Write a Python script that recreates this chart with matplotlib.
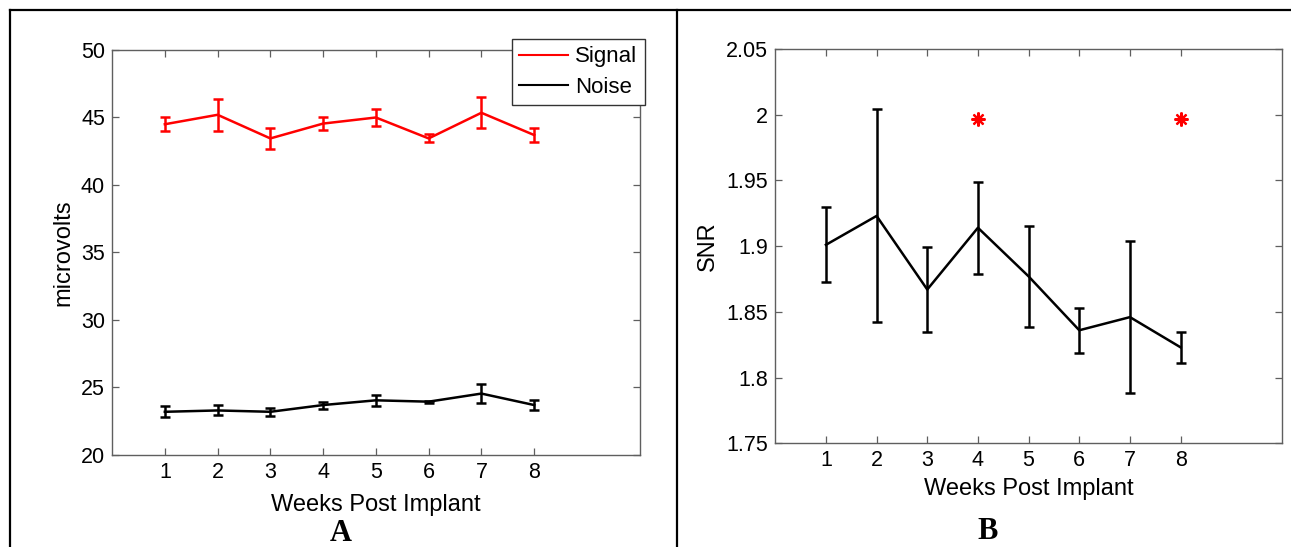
import matplotlib
matplotlib.use("Agg")
import matplotlib.pyplot as plt
from matplotlib.lines import Line2D

# ---- data -------------------------------------------------------------
weeks = [1, 2, 3, 4, 5, 6, 7, 8]

signal = [44.50, 45.20, 43.45, 44.55, 45.00, 43.45, 45.35, 43.70]
signal_err = [0.50, 1.20, 0.75, 0.48, 0.62, 0.30, 1.15, 0.55]

noise = [23.20, 23.30, 23.20, 23.70, 24.05, 23.95, 24.55, 23.70]
noise_err = [0.42, 0.37, 0.29, 0.26, 0.39, 0.08, 0.72, 0.34]

snr = [1.901, 1.923, 1.867, 1.914, 1.877, 1.836, 1.846, 1.823]
snr_err = [0.0285, 0.081, 0.0325, 0.035, 0.0385, 0.017, 0.0577, 0.0117]

signif_weeks = [4, 8]
signif_y = [1.9965, 1.9965]

uv_ticks = [20, 25, 30, 35, 40, 45, 50]
snr_ticks = [1.75, 1.80, 1.85, 1.90, 1.95, 2.00, 2.05]
snr_tick_labels = ["1.75", "1.8", "1.85", "1.9", "1.95", "2", "2.05"]

# ---- style ------------------------------------------------------------
plt.rcParams["font.family"] = ["Liberation Sans", "DejaVu Sans"]
AXIS_GRAY = "#5f5f5f"
TICK_FS = 15.5
LABEL_FS = 17
LEGEND_FS = 16
LW = 1.8

W, H = 1291, 547
fig = plt.figure(figsize=(W / 100, H / 100), dpi=100)
fig.patch.set_facecolor("white")


def style_axes(ax):
    for sp in ax.spines.values():
        sp.set_color(AXIS_GRAY)
        sp.set_linewidth(1.0)
    ax.tick_params(direction="in", top=True, right=True, length=5,
                   width=0.9, color=AXIS_GRAY, labelcolor="black",
                   labelsize=TICK_FS, pad=5)
    ax.set_xlim(0, 10)
    ax.set_xticks(weeks)


# ---- panel A: signal and noise amplitude ------------------------------
axA = fig.add_axes([0.0868, 0.1682, 0.4087, 0.7404])
style_axes(axA)
axA.errorbar(weeks, signal, yerr=signal_err, color="red", lw=LW,
             elinewidth=LW, capsize=3.5, capthick=LW)
axA.errorbar(weeks, noise, yerr=noise_err, color="black", lw=LW,
             elinewidth=LW, capsize=3.5, capthick=LW)
axA.set_ylim(20, 50)
axA.set_yticks(uv_ticks)
axA.set_xlabel("Weeks Post Implant", fontsize=LABEL_FS, labelpad=8)
axA.set_ylabel("microvolts", fontsize=LABEL_FS, labelpad=5)

handles = [Line2D([], [], color="red", lw=1.5),
           Line2D([], [], color="black", lw=1.5)]
leg = axA.legend(handles, ["Signal", "Noise"], loc="upper left",
                 bbox_to_anchor=(511.7 / W, 1 - 38.5 / H),
                 bbox_transform=fig.transFigure, borderaxespad=0,
                 fontsize=LEGEND_FS, frameon=True, fancybox=False,
                 framealpha=1, edgecolor="#333333", borderpad=0.35,
                 labelspacing=0.42, handlelength=2.2, handletextpad=0.3)
leg.get_frame().set_linewidth(1.0)

# ---- panel B: signal-to-noise ratio -----------------------------------
axB = fig.add_axes([0.6005, 0.1896, 0.3925, 0.7208])
style_axes(axB)
axB.errorbar(weeks, snr, yerr=snr_err, color="black", lw=LW,
             elinewidth=LW, capsize=3.5, capthick=LW)
axB.plot(signif_weeks, signif_y, linestyle="none", marker=(8, 2, 0),
         markersize=10, markeredgewidth=1.6, color="red")
axB.set_ylim(1.75, 2.05)
axB.set_yticks(snr_ticks)
axB.set_yticklabels(snr_tick_labels)
axB.set_xlabel("Weeks Post Implant", fontsize=LABEL_FS, labelpad=5)
axB.set_ylabel("SNR", fontsize=LABEL_FS, labelpad=5)

# ---- panel letters and frame ------------------------------------------
fig.text(341 / W, 1 - 541 / H, "A", ha="center", va="baseline",
         fontsize=22, fontweight="bold", family=["Liberation Serif"])
fig.text(987.5 / W, 1 - 539.3 / H, "B", ha="center", va="baseline",
         fontsize=22, fontweight="bold", family=["Liberation Serif"])

top_y = 1 - 10 / H
left_x = 10 / W
div_x = 677 / W
fig.add_artist(Line2D([left_x, 1], [top_y, top_y], transform=fig.transFigure,
                      color="black", lw=1.6))
fig.add_artist(Line2D([left_x, left_x], [0, top_y], transform=fig.transFigure,
                      color="black", lw=1.6))
fig.add_artist(Line2D([div_x, div_x], [0, top_y], transform=fig.transFigure,
                      color="black", lw=1.6))

fig.savefig("out.png", dpi=100)
